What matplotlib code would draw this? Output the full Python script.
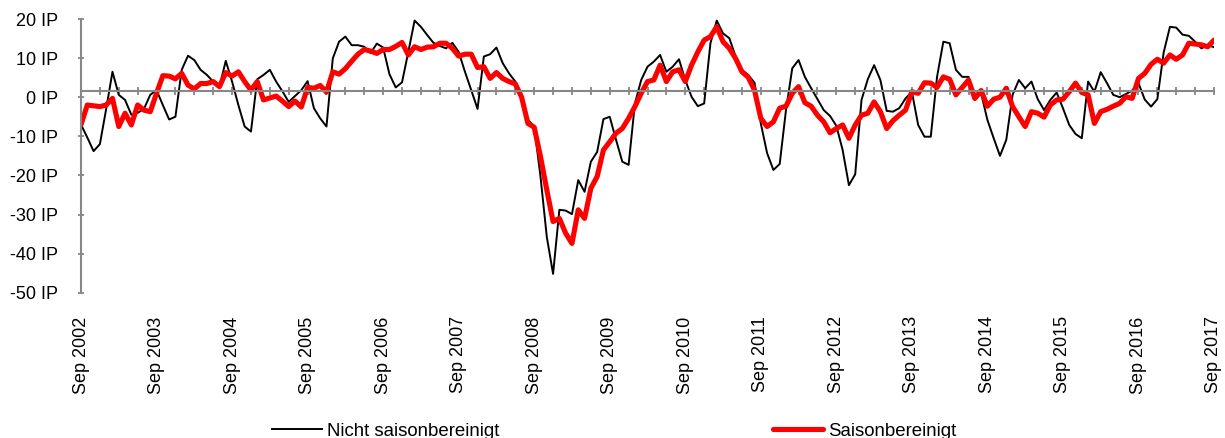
import matplotlib
matplotlib.use("Agg")
import matplotlib.pyplot as plt

plt.rcParams['font.family'] = ['Liberation Sans', 'DejaVu Sans']
plt.rcParams['font.size'] = 13

# monthly values, Sep 2002 .. Sep 2017
nicht_sb = [
    -7, -10.3, -13.8, -12, -3, 6.5, 0.6, -0.7, -4.5, -4, -3, 0.6,
    1.8, -2, -5.7, -5, 7, 10.6, 9.5, 7, 5.7, 4, 2.7, 9.3,
    4, -2, -7.5, -8.8, 4.6, 5.7, 7, 4, 1.5, -1.2, 0.3, 1.8,
    4.1, -2.8, -5.4, -7.5, 9.9, 14.2, 15.5, 13.3, 13.3, 12.9, 11.3, 13.7,
    12.7, 5.9, 2.5, 3.8, 11.6, 19.6, 18, 15.9, 13.9, 13.1, 12.5, 13.9,
    11.6, 6.5, 1.8, -3, 10.4, 11, 12.7, 8.7, 6.1, 4, 0.6, -5.8,
    -7.5, -20.3, -35.7, -45.2, -28.8, -29, -29.9, -21.2, -24.2, -16.5, -14, -5.6,
    -5, -10.9, -16.5, -17.3, -1.6, 4.4, 7.8, 9.1, 10.8, 6.5, 7.8, 9.7,
    4.4, 0.1, -2.3, -1.6, 13.8, 19.6, 16.3, 15.1, 10.4, 7, 5.7, 3.7,
    -6.7, -14.3, -18.6, -17.1, -3.3, 7.4, 9.5, 5.2, 2.3, -0.5, -3.3, -4.8,
    -7.3, -13.5, -22.5, -19.7, -0.7, 4.6, 8.2, 4.4, -3.5, -3.7, -2.8, -0.3,
    1.4, -7.1, -10.1, -10.1, 5.2, 14.2, 13.8, 7, 5.2, 5.2, -0.7, 1,
    -5.8, -10.5, -15, -10.9, 0.6, 4.4, 2.3, 4, -0.5, -3.3, -0.7, 1.2,
    -2.8, -7.1, -9.4, -10.5, 4, 1.4, 6.4, 3.6, 0.6, 0, 0.8, 1.7,
    3.6, -0.6, -2.4, -0.5, 11.4, 18, 17.8, 16, 15.7, 14.2, 12.5, 13.3,
    12.8,
]
saison_sb = [
    -7, -2, -2.2, -2.4, -2, -0.3, -7.5, -4.1, -7.1, -2, -3.3, -3.7,
    1, 5.5, 5.4, 4.7, 6.1, 3.1, 2.1, 3.5, 3.5, 4, 2.7, 6.3,
    5.4, 6.5, 4, 1.8, 4, -0.7, -0.2, 0.3, -1, -2.4, -1, -2.5,
    2.5, 2.3, 3, 1.3, 6.5, 5.9, 7.3, 9.2, 11, 12.2, 11.8, 11.2,
    12.2, 12.2, 13, 14, 10.8, 12.9, 12.2, 12.8, 12.9, 13.8, 13.8, 12.5,
    10.5, 11, 11, 7.6, 7.8, 4.8, 6.3, 4.8, 4, 3.4, 0, -6.7,
    -7.7, -15.2, -23.7, -31.8, -31, -34.8, -37.4, -28.8, -31, -23.3, -20.3, -13.5,
    -11.4, -9.2, -8, -5.4, -2.4, 1, 4, 4.4, 8.2, 4, 6.5, 7,
    4, 8.2, 11.6, 14.6, 15.5, 18, 14.2, 12.5, 9.9, 6.5, 5.1, 1.8,
    -5.4, -7.5, -6.3, -2.8, -2.3, 1, 2.7, -1.4, -2.3, -4.6, -6.3, -9.1,
    -8, -7.1, -10.5, -7.1, -4.6, -4.1, -1.2, -3.7, -8, -6, -4.6, -3.3,
    1.4, 1, 3.7, 3.6, 2.5, 5.2, 4.6, 0.6, 2.5, 4.4, -0.3, 1.7,
    -2.3, -0.5, 0, 2.3, -2.4, -5, -7.5, -3.7, -4.1, -5.1, -2, -0.7,
    -0.5, 1.4, 3.6, 1.2, 0.6, -6.7, -3.7, -3.1, -2.3, -1.6, 0.1, -0.3,
    4.8, 6.1, 8.4, 9.7, 8.7, 10.8, 9.7, 10.8, 13.8, 13.6, 13.4, 12.9,
    14.6,
]
years = list(range(2002, 2018))
x_labels = ["Sep %d" % y for y in years]
y_ticks = [-50, -40, -30, -20, -10, 0, 10, 20]
axis_cross = 1.6  # category axis crosses here

GRAY = "#878787"

fig = plt.figure(figsize=(12.25, 4.38), dpi=100)
ax = fig.add_axes([81 / 1225, 1 - 292.7 / 438, 1133 / 1225, 273.7 / 438])

months = list(range(len(nicht_sb)))
l1, = ax.plot(months, nicht_sb, color="black", lw=1.4, solid_joinstyle="round")
l2, = ax.plot(months, saison_sb, color="#ff0000", lw=3.7, solid_joinstyle="round",
              solid_capstyle="round")

ax.set_xlim(0, len(months) - 1)
ax.set_ylim(-50, 20)

for s in ["top", "right"]:
    ax.spines[s].set_visible(False)
ax.spines["left"].set_color(GRAY)
ax.spines["left"].set_linewidth(1.5)
ax.spines["bottom"].set_position(("data", axis_cross))
ax.spines["bottom"].set_color(GRAY)
ax.spines["bottom"].set_linewidth(1.5)

ax.set_xticks(range(0, len(months), 3))
ax.tick_params(axis="x", direction="inout", length=5.5, width=1.3, color=GRAY,
               labelbottom=False)

ax.set_yticks(y_ticks)
ax.set_yticklabels(["%d IP" % v for v in y_ticks])
ax.tick_params(axis="y", direction="inout", length=5, width=1.3, color=GRAY, pad=14)

sec = ax.secondary_xaxis(0)
sec.set_xticks(range(0, len(months), 12))
sec.set_xticklabels(x_labels, rotation=90)
sec.spines["bottom"].set_visible(False)
sec.tick_params(axis="x", length=0, pad=17)

fig.legend([l1, l2], ["Nicht saisonbereinigt", "Saisonbereinigt"],
           loc="center left", bbox_to_anchor=(272 / 1225, 7 / 438), ncol=2,
           frameon=False, borderpad=0, borderaxespad=0, handlelength=2.7,
           handletextpad=0.27, columnspacing=14.7, fontsize=13.4)

fig.savefig("out.png", dpi=100)
